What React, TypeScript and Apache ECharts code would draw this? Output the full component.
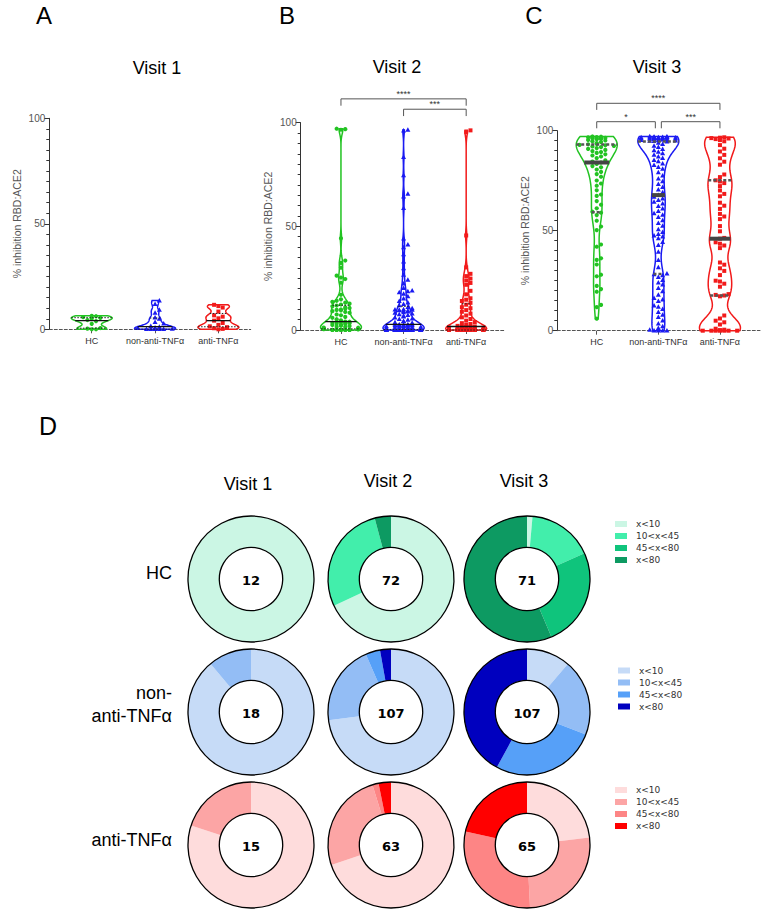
import React, { useEffect, useRef } from "react";
import * as echarts from "echarts";

// ---------- text / categories ----------
const groups = ["HC", "non-anti-TNFα", "anti-TNFα"];
const visitTitles = ["Visit 1", "Visit 2", "Visit 3"];
const panelLetters = ["A", "B", "C"];
const yAxisName = "% inhibition RBD:ACE2";
const binLabels = ["x<10", "10<x<45", "45<x<80", "x<80"];
const binEdges = [10, 45, 80];
const rowLabels = ["HC", "non-\nanti-TNFα", "anti-TNFα"];

// ---------- values (% inhibition) ----------
const v1HC = [0, 0, 0.3, 0.6, 2.6, 3.9, 4.4, 5.0, 5.4, 5.8, 6.2, 6.4];
const v1Non = [0, 0, 0, 0, 0, 0.2, 0.5, 0.8, 1.1, 1.5, 2.6, 3.4, 4.9, 5.5, 7.8, 9.2, 11.9, 13.6];
const v1Anti = [0, 0.2, 0.5, 1.0, 1.4, 2.1, 3.0, 4.1, 5.2, 6.0, 6.6, 8.4, 10.3, 11.0, 11.6];

const v2HC = [
  0, 0, 0, 0, 0, 0, 0, 0, 0, 0, 0, 0, 0, 0, 0.1, 0.2, 0.3, 0.4, 0.6, 0.8, 1.1, 1.2, 1.5, 1.6, 1.9,
  2.1, 2.4, 2.6, 2.9, 3.1, 3.3, 3.5, 3.6, 3.8, 3.9, 4.0, 4.1, 4.7, 5.2, 5.9, 6.3, 7.1, 7.5, 8.3, 8.7,
  9.1, 9.5, 9.7, 9.9,
  44.2, 33.5, 32.4, 30.1, 26.2, 25.3, 24.6, 22.8, 17.0, 14.8, 14.1, 13.6, 13.2, 12.7, 12.3, 11.8,
  11.4, 11.0, 10.6, 10.2,
  96.6, 96.9, 97.1,
];
const v2Non = [
  0, 0, 0, 0, 0, 0, 0, 0, 0, 0, 0, 0, 0, 0, 0, 0, 0, 0, 0, 0, 0, 0, 0, 0,
  0.1, 0.2, 0.2, 0.3, 0.4, 0.5, 0.5, 0.6, 0.7, 0.8, 0.9, 1.0, 1.2, 1.2, 1.3, 1.5, 1.5, 1.7, 1.8, 1.9,
  2.0, 2.1, 2.2, 2.3, 2.4, 2.4, 2.5, 2.6, 2.6, 2.7,
  3.0, 3.4, 3.7, 4.1, 4.3, 4.8, 5.2, 5.5, 5.9, 6.4, 6.8, 7.1, 7.5, 7.9, 8.2, 8.5, 8.8, 9.1, 9.3, 9.4,
  9.6, 9.7, 9.8, 9.9,
  44.1, 41.2, 39.8, 36.4, 33.0, 29.7, 26.5, 24.1, 22.3, 20.2, 19.0, 18.6, 18.1, 17.4, 16.2, 15.1,
  13.9, 13.2, 12.4, 11.8, 11.0, 10.4,
  74.5, 65.6, 64.3, 58.7,
  96.2, 96.5, 83.4,
];
const v2Anti = [
  0, 0, 0, 0, 0, 0, 0, 0, 0, 0, 0, 0, 0, 0, 0, 0, 0, 0, 0, 0,
  0.2, 0.3, 0.5, 0.6, 0.8, 0.9, 1.1, 1.2, 1.4, 1.5, 1.6, 1.7,
  2.0, 2.4, 2.9, 3.3, 3.8, 4.5, 5.3, 6.1, 7.0, 7.9, 8.8, 9.6,
  30.2, 27.1, 26.0, 24.8, 23.9, 22.7, 21.8, 18.9, 17.2, 15.3, 14.6, 14.0, 13.1, 12.2, 11.0, 10.5,
  45.6,
  95.4, 96.3,
];

const v3HC = [
  6.0,
  11.8, 12.9, 19.5, 20.8, 22.4, 27.2, 28.0, 33.1, 35.4, 36.2, 42.0, 43.1,
  50.3, 52.1, 55.0, 57.8, 59.0, 59.5, 61.2, 63.0, 64.8, 67.4, 68.1, 70.2, 72.5, 73.6, 75.1, 77.0,
  78.3, 79.4,
  80.6, 81.7, 82.3, 83.4, 84.1, 84.6, 85.2, 86.3, 87.1, 87.6, 88.2, 88.9, 89.3, 89.8, 90.4, 90.9,
  91.3, 91.8, 92.1, 92.4, 92.7, 92.9, 93.2, 93.4, 93.8, 94.3, 94.7, 95.1, 95.4, 95.7, 95.9, 96.1,
  96.2, 96.4, 96.5, 96.7, 96.8, 96.9, 97.0, 97.1,
];
const v3Non = [
  0, 0, 0, 0, 0.4, 1.2, 2.1, 3.5, 5.0, 6.8, 7.9, 9.3,
  10.8, 11.9, 12.5, 14.7, 15.5, 16.3, 17.9, 19.6, 21.2, 23.0, 24.0, 25.3, 26.7, 27.6, 28.1, 28.5,
  31.6, 35.2, 39.4, 42.8, 44.3,
  46.1, 47.0, 47.5, 48.3, 49.2, 50.6, 52.4, 53.8, 55.1, 56.7, 57.9, 58.6, 59.8, 61.0, 62.3, 63.5,
  64.4, 65.2, 66.0, 66.9, 67.8, 69.1, 70.5, 71.8, 73.2, 74.6, 76.0, 77.5, 79.1,
  80.9, 81.8, 82.7, 83.5, 84.6, 85.3, 86.2, 87.0, 87.9, 88.6, 89.4, 90.1, 90.8, 91.7, 92.4, 93.2,
  93.9, 94.5, 94.7, 94.9, 95.0, 95.2, 95.3, 95.5, 95.6, 95.7, 95.8, 95.9, 96.0, 96.1, 96.1, 96.2,
  96.3, 96.3, 96.4, 96.5, 96.5, 96.6, 96.6, 96.7, 96.8, 96.8, 96.9, 97.0, 97.1,
];
const v3Anti = [
  0, 0, 0, 0, 0, 0, 0, 0.3, 0.5, 1.0, 3.1, 4.2, 5.0, 6.1, 7.6,
  17.2, 17.6, 17.9, 18.3, 22.0, 23.5, 24.6, 25.0, 27.8, 29.9, 31.2, 33.0, 34.1, 41.3, 42.6, 43.5, 44.2,
  46.0, 46.4, 49.7, 52.3, 55.8, 57.1, 58.4, 60.9, 62.5, 64.0, 67.2, 68.4, 70.1, 72.3, 73.8, 74.6,
  75.2, 76.8, 78.1,
  83.0, 84.5, 86.2, 87.9, 89.6, 91.0, 92.8, 94.7, 95.3, 95.8, 96.1, 96.3, 96.5, 96.7,
];

const visitData = [
  [v1HC, v1Non, v1Anti],
  [v2HC, v2Non, v2Anti],
  [v3HC, v3Non, v3Anti],
];

// significance brackets: group indices, level in % units, label
const brackets = [
  [],
  [
    { from: 0, to: 2, level: 111.5, label: "****" },
    { from: 1, to: 2, level: 106.5, label: "***" },
  ],
  [
    { from: 0, to: 2, level: 113.7, label: "****" },
    { from: 0, to: 1, level: 104.5, label: "*" },
    { from: 1, to: 2, level: 104.5, label: "***" },
  ],
];

// ---------- styles / layout ----------
const FONT = "Liberation Sans, Arial, Helvetica, sans-serif";
const groupColors = ["#22c322", "#1a1af2", "#f21a1a"];
const donutPalettes = [
  ["#cbf6e4", "#42eeab", "#0fc47c", "#0d9a62"],
  ["#c6dbf7", "#93bdf5", "#56a0f8", "#0000bf"],
  ["#fedcdc", "#fca5a5", "#fd8585", "#ff0000"],
];

const panelCfg = [
  { left: 49.3, top: 118.3, width: 201.4, height: 211, min: -0.67, max: 2.51, bw: 1.2, titleX: 157, titleY: 68, letterX: 44 },
  { left: 300.7, top: 122.7, width: 204.3, height: 207.3, min: -0.643, max: 2.62, bw: 2.5, titleX: 397, titleY: 67, letterX: 287 },
  { left: 557.3, top: 130.7, width: 202.7, height: 200, min: -0.64, max: 2.65, bw: 5, titleX: 657, titleY: 67, letterX: 534 },
];

const donutX = [251, 391, 527];
const donutY = [579, 712, 845];
const R_IN = 31.7;
const R_OUT = 63;
const legendPos = [
  { x: 615, y: 524 },
  { x: 618, y: 670.5 },
  { x: 615, y: 790 },
];

const quant = (s: number[], p: number) => {
  const pos = (s.length - 1) * p;
  const lo = Math.floor(pos);
  const hi = Math.ceil(pos);
  return s[lo] + (s[hi] - s[lo]) * (pos - lo);
};

const binCounts = (vals: number[]) => {
  const c = [0, 0, 0, 0];
  vals.forEach((v) => {
    let k = 0;
    while (k < binEdges.length && v >= binEdges[k]) k++;
    c[k]++;
  });
  return c;
};

const makeRender = (p: number) => (params: any, api: any) => {
  const gi = params.dataIndex;
  const vals = [...visitData[p][gi]].sort((a, b) => a - b);
  const color = groupColors[gi];
  const cx = api.coord([gi, 0])[0];
  const py = (v: number) => api.coord([gi, v])[1];
  const bw = panelCfg[p].bw;
  const lo = vals[0];
  const hi = vals[vals.length - 1];
  const dens = (y: number) => vals.reduce((s, v) => s + Math.exp(-0.5 * ((y - v) / bw) ** 2), 0);
  const N = 140;
  const ys: number[] = [];
  const ds: number[] = [];
  let maxD = 0;
  for (let k = 0; k <= N; k++) {
    const y = lo + ((hi - lo) * k) / N;
    const d = dens(y);
    ys.push(y);
    ds.push(d);
    if (d > maxD) maxD = d;
  }
  const W = 20.5;
  const hw = (y: number) => (dens(y) / maxD) * W;
  const left = ys.map((y, k) => [cx - (ds[k] / maxD) * W, py(y)]);
  const right = ys.map((y, k) => [cx + (ds[k] / maxD) * W, py(y)]).reverse();
  const children: any[] = [];
  children.push({
    type: "polygon",
    shape: { points: [...left, ...right] },
    style: { fill: "none", stroke: color, lineWidth: 1.5 },
  });

  // beeswarm placement of points
  const d = 4.3;
  const placed: number[][] = [];
  vals.forEach((v) => {
    const y = py(v);
    const cap = Math.max(12, hw(v) - 2);
    const cands = [0];
    for (let k = 1; k * d <= cap; k++) cands.push(k * d, -k * d);
    let best = 0;
    let bestC = Infinity;
    for (const c of cands) {
      let n = 0;
      for (const q of placed) if (Math.abs(q[1] - y) < d && Math.abs(q[0] - c) < d) n++;
      if (n < bestC) {
        bestC = n;
        best = c;
      }
      if (n === 0) break;
    }
    placed.push([best, y]);
  });
  placed.forEach(([ox, y]) => {
    const x = cx + ox;
    if (gi === 0) {
      children.push({ type: "circle", shape: { cx: x, cy: y, r: 2.1 }, style: { fill: color } });
    } else if (gi === 1) {
      children.push({
        type: "polygon",
        shape: { points: [[x, y - 2.7], [x - 2.5, y + 1.8], [x + 2.5, y + 1.8]] },
        style: { fill: color },
      });
    } else {
      children.push({ type: "rect", shape: { x: x - 2, y: y - 2, width: 4, height: 4 }, style: { fill: color } });
    }
  });

  // median and quartiles
  const big = p === 2;
  const stats = [quant(vals, 0.25), quant(vals, 0.5), quant(vals, 0.75)];
  stats.forEach((s, si) => {
    const w = Math.max(hw(s), 3);
    const isMed = si === 1;
    children.push({
      type: "line",
      shape: { x1: cx - w, y1: py(s), x2: cx + w, y2: py(s) },
      style: isMed
        ? { stroke: big ? "#444" : "#111", lineWidth: big ? 4 : 1.3 }
        : { stroke: big ? "#555" : "#222", lineWidth: big ? 2.5 : 1, lineDash: big ? [3, 2] : [1.5, 1.5] },
    });
  });

  // significance brackets (drawn once per panel)
  if (gi === 0) {
    const bs = brackets[p];
    bs.forEach((b) => {
      const shared = (cat: number) =>
        bs.some((o) => o !== b && o.level === b.level && (o.from === cat || o.to === cat));
      const x1 = api.coord([b.from, 0])[0] + (shared(b.from) ? 3 : 0);
      const x2 = api.coord([b.to, 0])[0] - (shared(b.to) ? 3 : 0);
      const yl = py(b.level);
      const yd = py(b.level - 3.3);
      children.push({
        type: "polyline",
        shape: { points: [[x1, yd], [x1, yl], [x2, yl], [x2, yd]] },
        style: { stroke: "#555", lineWidth: 1, fill: "none" },
      });
      children.push({
        type: "text",
        style: {
          text: b.label,
          x: (x1 + x2) / 2,
          y: yl - 0.5,
          align: "center",
          verticalAlign: "bottom",
          fontSize: 9,
          fontFamily: FONT,
          fill: "#333",
        },
      });
    });
  }
  return { type: "group", children };
};

const txt = (x: number, y: number, text: string, fontSize: number, extra: any = {}) => ({
  type: "text",
  x,
  y,
  style: {
    text,
    fontSize,
    fontFamily: FONT,
    fill: "#000",
    align: "center",
    verticalAlign: "middle",
    ...extra,
  },
});

export default function App() {
  const ref = useRef<HTMLDivElement>(null);
  useEffect(() => {
    document.body.style.margin = "0";
    const chart = echarts.init(ref.current!, undefined, { renderer: "svg" });

    const customSeries = panelCfg.map((_, p) => ({
      type: "custom",
      xAxisIndex: p,
      yAxisIndex: p,
      data: groups.map((_, i) => [i, 0]),
      encode: { x: 0, y: 1 },
      renderItem: makeRender(p),
      silent: true,
      clip: false,
      z: 2,
    }));

    const pies: any[] = [];
    const outlines: any[] = [];
    rowLabels.forEach((_, r) => {
      visitTitles.forEach((_, c) => {
        const counts = binCounts(visitData[c][r]);
        pies.push({
          type: "pie",
          center: [donutX[c], donutY[r]],
          radius: [R_IN, R_OUT],
          startAngle: 90,
          clockwise: true,
          silent: true,
          avoidLabelOverlap: false,
          label: { show: false },
          labelLine: { show: false },
          itemStyle: { borderWidth: 0 },
          data: counts.map((v, k) => ({
            value: v,
            name: binLabels[k],
            itemStyle: { color: donutPalettes[r][k] },
          })),
        });
        outlines.push({
          type: "pie",
          center: [donutX[c], donutY[r]],
          radius: [R_IN, R_OUT],
          silent: true,
          label: { show: false },
          labelLine: { show: false },
          z: 3,
          data: [{ value: 1, name: "outline", itemStyle: { color: "rgba(0,0,0,0)", borderColor: "#000", borderWidth: 1.3 } }],
        });
      });
    });

    const graphic: any[] = [];
    panelCfg.forEach((pc, p) => {
      graphic.push(txt(pc.letterX, 15, panelLetters[p], 24));
      graphic.push(txt(pc.titleX, pc.titleY, visitTitles[p], 18));
    });
    graphic.push(txt(48, 426, "D", 25));
    visitTitles.forEach((t, c) => graphic.push(txt(donutX[c] - 3, c === 0 ? 484 : 481, t, 18)));
    graphic.push(txt(172, 573, rowLabels[0], 18, { align: "right" }));
    graphic.push(txt(172, 704.5, rowLabels[1], 18, { align: "right", lineHeight: 23 }));
    graphic.push(txt(172, 840, rowLabels[2], 18, { align: "right" }));
    rowLabels.forEach((_, r) => {
      visitTitles.forEach((_, c) => {
        graphic.push(
          txt(donutX[c], donutY[r] + 1, String(visitData[c][r].length), 13, {
            fontWeight: "bold",
            fontFamily: "DejaVu Sans, sans-serif",
          })
        );
      });
    });
    legendPos.forEach((lp, r) => {
      binLabels.forEach((lab, k) => {
        const y = lp.y + k * 12;
        graphic.push({
          type: "rect",
          shape: { x: lp.x, y: y - 3, width: 12, height: 6 },
          style: { fill: donutPalettes[r][k] },
        });
        graphic.push(
          txt(lp.x + 21, y, lab, 9, { align: "left", fill: "#333", fontFamily: "DejaVu Sans, sans-serif" })
        );
      });
    });

    const option: any = {
      animation: false,
      backgroundColor: "#fff",
      grid: panelCfg.map((pc) => ({ left: pc.left, top: pc.top, width: pc.width, height: pc.height })),
      xAxis: panelCfg.map((pc, p) => ({
        type: "value",
        gridIndex: p,
        min: pc.min,
        max: pc.max,
        splitLine: { show: false },
        axisLine: { show: true, lineStyle: { color: "#555", type: [3, 2], width: 1 } },
        axisTick: { show: true, customValues: [0, 1, 2], length: 4, lineStyle: { color: "#555" } },
        axisLabel: {
          customValues: [0, 1, 2],
          formatter: (v: number) => groups[Math.round(v)],
          fontSize: 9,
          color: "#333",
          margin: 7,
          fontFamily: FONT,
        },
      })),
      yAxis: panelCfg.map((_, p) => ({
        type: "value",
        gridIndex: p,
        min: 0,
        max: 100,
        interval: 50,
        name: yAxisName,
        nameLocation: "middle",
        nameGap: 27,
        nameTextStyle: { fontSize: 10.5, color: "#555", fontFamily: FONT },
        axisLine: { show: true, onZero: false, lineStyle: { color: "#333", width: 1 } },
        axisTick: { show: true, length: 5, lineStyle: { color: "#333" } },
        minorTick: { show: true, splitNumber: 10, length: 3, lineStyle: { color: "#333" } },
        axisLabel: { fontSize: 10, color: "#555", margin: 4, fontFamily: FONT },
        splitLine: { show: false },
      })),
      series: [...customSeries, ...pies, ...outlines],
      graphic,
    };
    chart.setOption(option);
    return () => chart.dispose();
  }, []);
  return <div ref={ref} style={{ position: "absolute", left: 0, top: 0, width: 766, height: 915 }} />;
}
